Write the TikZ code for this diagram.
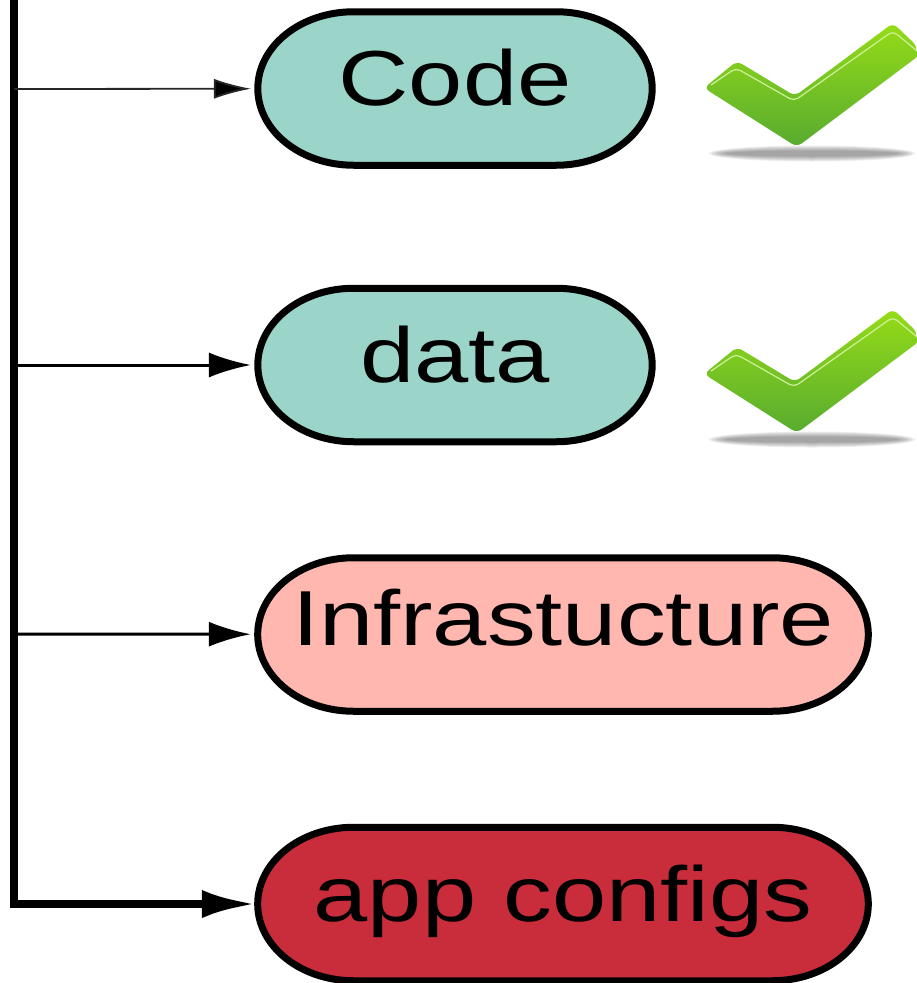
\documentclass[tikz,border=0pt]{standalone}
\usepackage{fontspec}
\setmainfont{Liberation Sans}
\usepackage{xcolor}
\usetikzlibrary{arrows.meta, shapes.misc}

\definecolor{donefill}{HTML}{9BD5C9}
\definecolor{softfill}{HTML}{FFB7B0}
\definecolor{hardfill}{HTML}{C92C3A}
\definecolor{ticktop}{HTML}{96DC17}
\definecolor{tickbot}{HTML}{57AB30}
\definecolor{tickline}{HTML}{CDF09A}

\tikzset{
  pill/.style={rounded rectangle, draw=black, line width=7pt, xscale=1.25, transform shape,
    minimum height=153.5pt, inner sep=0pt, outer sep=5.5pt,
    font=\fontsize{78}{80}\selectfont, text height=50pt, text depth=16pt},
  thinfeed/.style={line width=1.8pt, draw=black!85, -{Latex[length=37pt,width=20pt,fill=black]}},
  midfeed/.style={line width=3pt, -{Latex[length=42pt,width=25pt]}},
  trunk/.style={line width=8.5pt, line cap=butt, shorten >=-6pt, -{Latex[length=55pt,width=28pt]}},
}

\begin{document}
\begin{tikzpicture}[x=1pt, y=-1pt]
\useasboundingbox (0,0) rectangle (917,983);

% the four boxes
\node[pill, fill=donefill, minimum width=315.5pt] (code) at (455,88.5) {Code};
\node[pill, fill=donefill, minimum width=315.5pt] (data) at (455,365) {data};
\node[pill, fill=softfill, minimum width=488.5pt, text height=44pt, text depth=22pt] (infra) at (563,634.5) {Infrastucture};
\node[pill, fill=hardfill, minimum width=488.5pt] (app) at (563,904) {app configs};

% trunk and feeds
\coordinate (top) at (14,0);
\coordinate (feedcode) at (14,89);
\coordinate (feeddata) at (14,365);
\coordinate (feedinfra) at (14,634);
\draw[trunk] (top) |- (app);
\draw[thinfeed] (feedcode) -- (code);
\draw[midfeed] (feeddata) -- (data);
\draw[midfeed] (feedinfra) -- (infra);

% the ticks
\foreach \tickshift in {0,286}{
  \begin{scope}[shift={(0,\tickshift)}]
  \foreach \shadowrx/\shadowry in {103/8,100/7,97/6,94/5,90/4,86/3}{
    \fill[black, opacity=0.07] (812,153.5) ellipse ({\shadowrx} and {\shadowry});
  }
  \shade[top color=ticktop, bottom color=tickbot, rounded corners=6pt]
    (704,88) -- (737,61) -- (795,96) -- (893,23) -- (917,46) [sharp corners] -- (917,57) [rounded corners=6pt]
    -- (797,147) -- cycle;
  \draw[tickline, line width=1.2pt, rounded corners=5pt]
    (711,85) -- (736,68) -- (794,101) -- (893,31) -- (917,51);
  \end{scope}
}
\end{tikzpicture}
\end{document}
